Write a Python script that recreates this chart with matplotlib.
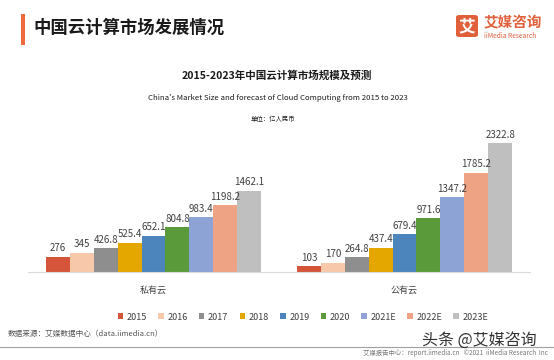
import matplotlib
matplotlib.use("Agg")
import matplotlib.pyplot as plt
from matplotlib.patches import Rectangle, FancyBboxPatch
import numpy as np

plt.rcParams['font.family'] = ['Noto Sans CJK SC', 'DejaVu Sans']

categories = ["私有云", "公有云"]
years = ["2015", "2016", "2017", "2018", "2019", "2020", "2021E", "2022E", "2023E"]
private_cloud = [276, 345, 426.8, 525.4, 652.1, 804.8, 983.4, 1198.2, 1462.1]
public_cloud = [103, 170, 264.8, 437.4, 679.4, 971.6, 1347.2, 1785.2, 2322.8]
value_labels_private = ["276", "345", "426.8", "525.4", "652.1", "804.8", "983.4", "1198.2", "1462.1"]
value_labels_public = ["103", "170", "264.8", "437.4", "679.4", "971.6", "1347.2", "1785.2", "2322.8"]
colors = ["#D4553A", "#F7C9AA", "#8E8E8E", "#E4A700", "#4C84BC", "#5B9A3B",
          "#8DA2D5", "#EFA385", "#BFBFBF"]

W, H = 554, 360
fig = plt.figure(figsize=(W / 100, H / 100), dpi=100)
fig.patch.set_facecolor("white")

def fx(px):
    return px / W

def fy(py):
    return 1 - py / H

# axes
ax_left, ax_right, ax_bottom, ax_top = 28, 530, 272, 130
ax = fig.add_axes([fx(ax_left), fy(ax_bottom), fx(ax_right - ax_left), (ax_bottom - ax_top) / H])
ymax = (ax_bottom - ax_top) / 129 * 2322.8
ax.set_ylim(0, ymax)
ax.set_xlim(-0.5, 1.5)

n = len(years)
w = 0.857 / n
x = np.arange(len(categories))
for i in range(n):
    vals = [private_cloud[i], public_cloud[i]]
    labs = [value_labels_private[i], value_labels_public[i]]
    xs = x + (i - (n - 1) / 2) * w
    bars = ax.bar(xs, vals, width=w, color=colors[i], label=years[i], zorder=2)
    for b, lab in zip(bars, labs):
        ax.annotate(lab, (b.get_x() + b.get_width() / 2, b.get_height()),
                    xytext=(0, 2.5), textcoords="offset points", ha="center", va="bottom",
                    fontsize=7, color="#404040")

for s in ["top", "right", "left"]:
    ax.spines[s].set_visible(False)
ax.spines["bottom"].set_color("#D9D9D9")
ax.spines["bottom"].set_linewidth(0.8)
ax.set_yticks([])
ax.set_xticks(x)
ax.set_xticklabels(categories, fontsize=6.5, color="#404040")
ax.tick_params(axis="x", length=0, pad=10)

# legend
handles, labels = ax.get_legend_handles_labels()
fig.legend(handles, labels, loc="center", bbox_to_anchor=(fx(303), fy(317)), ncol=9,
           frameon=False, fontsize=6.5, handlelength=0.6, handleheight=0.6,
           handletextpad=0.4, columnspacing=1.25, labelcolor="#404040")

# header
fig.patches.append(Rectangle((fx(21), fy(45)), fx(4), (45 - 14) / H, transform=fig.transFigure,
                             facecolor="#F06A3B", edgecolor="none"))
fig.text(fx(33), fy(28), "中国云计算市场发展情况", fontsize=12.5, fontweight="bold",
         color="#1A1A1A", va="center", ha="left")

# logo
fig.patches.append(FancyBboxPatch((fx(456), fy(37)), fx(22), 22 / H,
                                  boxstyle="round,pad=0,rounding_size=0.006",
                                  transform=fig.transFigure, facecolor="#E0603C", edgecolor="none"))
fig.text(fx(467), fy(26.5), "艾", fontsize=12, fontweight="bold", color="white",
         ha="center", va="center")
fig.text(fx(484), fy(22), "艾媒咨询", fontsize=10.5, fontweight="bold", color="#E0603C",
         ha="left", va="center")
fig.text(fx(484), fy(36), "iiMedia Research", fontsize=4.8, color="#E0603C",
         ha="left", va="center")

# titles
fig.text(fx(277), fy(75), "2015-2023年中国云计算市场规模及预测", fontsize=7.6,
         fontweight="bold", color="#1A1A1A", ha="center", va="center")
fig.text(fx(278), fy(98), "China's Market Size and forecast of Cloud Computing from 2015 to 2023",
         fontsize=5.6, color="#1A1A1A", ha="center", va="center")
fig.text(fx(273), fy(119), "单位：亿人民币", fontsize=4.6, color="#1A1A1A",
         ha="center", va="center")

# footer
fig.text(fx(8), fy(334), "数据来源：艾媒数据中心（data.iimedia.cn）", fontsize=5.5,
         color="#555555", ha="left", va="center")
fig.lines.append(plt.Line2D([0, 1], [fy(347), fy(347)], transform=fig.transFigure,
                            color="#A0A0A0", linewidth=0.8))
fig.text(fx(548), fy(353), "艾媒报告中心：report.iimedia.cn   ©2021  iiMedia Research  Inc",
         fontsize=4.6, color="#777777", ha="right", va="center")
fig.text(fx(479), fy(340), "头条 @艾媒咨询", fontsize=11.5, color="#333333",
         ha="center", va="center")

fig.savefig("out.png", dpi=100, facecolor="white")
